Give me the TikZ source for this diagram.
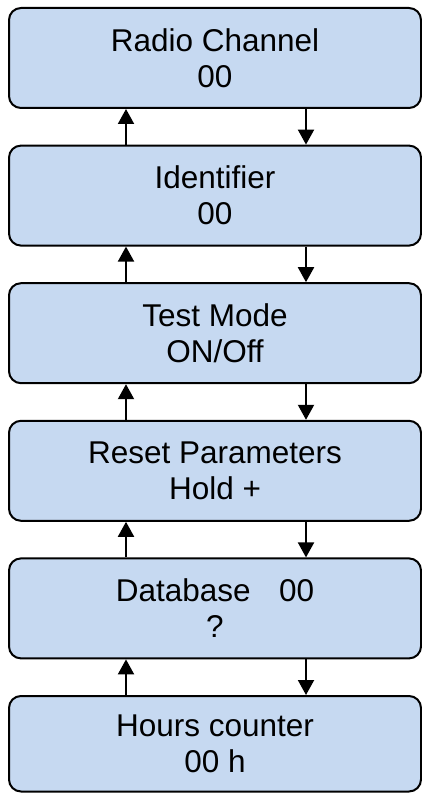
\documentclass[tikz,border=0pt]{standalone}
\usepackage{fontspec}
\setmainfont{Liberation Sans}
\usetikzlibrary{arrows.meta}
\definecolor{boxfill}{RGB}{198,217,241}
\tikzset{
  menubox/.style={draw=black, line width=2pt, fill=boxfill, rounded corners=12pt,
    minimum width=412pt, minimum height=100pt, inner sep=0pt, align=center,
    font=\fontsize{31.5}{36}\selectfont, text=black},
  navarrow/.style={line width=2pt, -{Triangle[width=16pt,length=15pt]}}
}
\begin{document}
\begin{tikzpicture}[x=1pt, y=-1pt]
  \useasboundingbox (0,0) rectangle (422,794);
  % menu entries, top to bottom
  \node[menubox] (b1) at (215,58)    {Radio Channel\\00};
  \node[menubox] (b2) at (215,195.6) {Identifier\\00};
  \node[menubox] (b3) at (215,333.2) {Test Mode\\ON/Off};
  \node[menubox] (b4) at (215,470.8) {Reset Parameters\\Hold +};
  \node[menubox] (b5) at (215,608.4) {Database\hspace{0.9em}00\\?};
  \node[menubox, minimum height=95.5pt] (b6) at (215,743.75) {Hours counter\\00 h};
  % columns of the up and down arrows
  \coordinate (ux) at (126,0);
  \coordinate (dx) at (306,0);
  \foreach \a/\b in {b1/b2, b2/b3, b3/b4, b4/b5, b5/b6} {
    \draw[navarrow] (\b.north -| ux) -- (\a.south -| ux);
    \draw[navarrow] (\a.south -| dx) -- (\b.north -| dx);
  }
\end{tikzpicture}
\end{document}
